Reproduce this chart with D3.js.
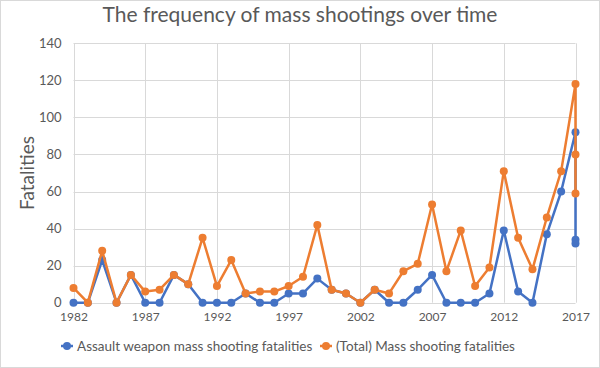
<!DOCTYPE html>
<html><head><meta charset="utf-8">
<script src="https://cdn.jsdelivr.net/npm/d3@7"></script>
<style>body{margin:0;background:#fff}svg{display:block}text{font-family:Lato,"Open Sans",sans-serif;fill:#595959}</style>
</head><body><svg id="c" width="600" height="368"></svg>
<script>
const years = [1982,1983,1984,1985,1986,1987,1988,1989,1990,1991,1992,1993,1994,1995,1996,1997,1998,1999,2000,2001,2002,2003,2004,2005,2006,2007,2008,2009,2010,2011,2012,2013,2014,2015,2016,2017,2017,2017];
const assault = [0,0,23,0,15,0,0,15,10,0,0,0,5,0,0,5,5,13,7,5,0,7,0,0,7,15,0,0,0,5,39,6,0,37,60,92,34,32];
const total = [8,0,28,0,15,6,7,15,10,35,9,23,5,6,6,9,14,42,7,5,0,7,5,17,21,53,17,39,9,19,71,35,18,46,71,118,80,59];
const xTicks = [1982,1987,1992,1997,2002,2007,2012,2017];
const yTicks = [0,20,40,60,80,100,120,140];
const seriesNames = ["Assault weapon mass shooting fatalities","(Total) Mass shooting fatalities"];
const colors = ["#4472C4","#ED7D31"];

const svg = d3.select("#c");
svg.append("rect").attr("x",0.5).attr("y",0.5).attr("width",599).attr("height",367).attr("fill","#fff").attr("stroke","#d9d9d9");
const x = d3.scaleLinear().domain([1982,2017]).range([73.5,575.5]);
const y = d3.scaleLinear().domain([0,140]).range([302.7,43.3]);

const g = svg.append("g");
// grid
g.selectAll(".hg").data(yTicks).join("line").attr("x1",x(1982)).attr("x2",x(2017))
 .attr("y1",d=>Math.round(y(d))+0.5).attr("y2",d=>Math.round(y(d))+0.5).attr("stroke","#d9d9d9").attr("stroke-width",1);
g.selectAll(".vg").data(xTicks).join("line").attr("y1",y(0)).attr("y2",y(140))
 .attr("x1",d=>Math.round(x(d))+0.5).attr("x2",d=>Math.round(x(d))+0.5).attr("stroke","#d9d9d9").attr("stroke-width",1);

// axes
const xa = svg.append("g").attr("transform",`translate(0,${y(0)})`)
 .call(d3.axisBottom(x).tickValues(xTicks).tickFormat(d3.format("d")).tickSize(0).tickPadding(10));
xa.select(".domain").remove();
xa.selectAll("text").attr("font-size",12).style("fill","#595959").style("font-family","Lato");
const ya = svg.append("g").attr("transform",`translate(${x(1982)},0)`)
 .call(d3.axisLeft(y).tickValues(yTicks).tickSize(0).tickPadding(12));
ya.select(".domain").remove();
ya.selectAll("text").attr("font-size",13).style("fill","#595959").style("font-family","Lato");

const sets = [assault,total];
sets.forEach((vals,i)=>{
  const pts = years.map((yr,j)=>[yr,vals[j]]);
  g.append("path").datum(pts).attr("fill","none").attr("stroke",colors[i]).attr("stroke-width",2.5)
   .attr("stroke-linejoin","round").attr("d",d3.line().x(d=>x(d[0])).y(d=>y(d[1])));
  g.selectAll(".m"+i).data(pts).join("circle").attr("cx",d=>x(d[0])).attr("cy",d=>y(d[1])).attr("r",4).attr("fill",colors[i]);
});

svg.append("text").attr("x",300).attr("y",22).attr("text-anchor","middle").attr("font-size",21).text("The frequency of mass shootings over time");
svg.append("text").attr("transform",`translate(34,${y(70)}) rotate(-90)`).attr("text-anchor","middle").attr("font-size",19).text("Fatalities");

// legend
const lg = svg.append("g");
const lx = [67,326];
seriesNames.forEach((n,i)=>{
  lg.append("line").attr("x1",lx[i]-6).attr("x2",lx[i]+6).attr("y1",346).attr("y2",346).attr("stroke",colors[i]).attr("stroke-width",2.5);
  lg.append("circle").attr("cx",lx[i]).attr("cy",346).attr("r",4).attr("fill",colors[i]);
  lg.append("text").attr("x",lx[i]+10).attr("y",351).attr("font-size",13.5).text(n);
});
</script></body></html>
